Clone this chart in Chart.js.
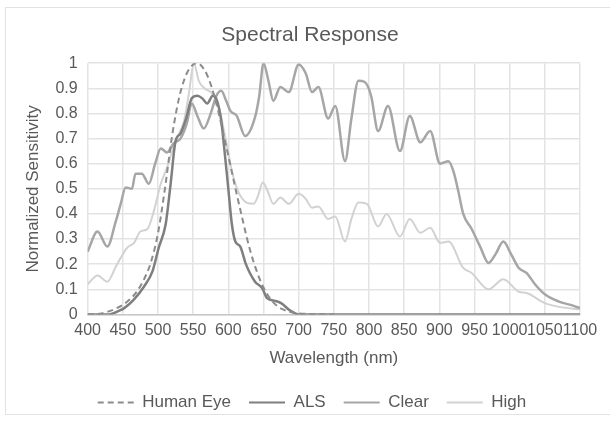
<!DOCTYPE html>
<html>
<head>
<meta charset="utf-8">
<script src="https://cdn.jsdelivr.net/npm/chart.js@4"></script>
<style>
html,body{margin:0;padding:0;background:#fff;overflow:hidden;}
#wrap{position:relative;width:610px;height:421px;}
#frame{position:absolute;left:5px;top:7px;width:620px;height:408px;border:1px solid #e2e2e2;box-sizing:border-box;}
canvas{position:absolute;left:0;top:0;}
</style>
</head>
<body>
<div id="wrap"><div id="frame"></div><canvas id="c" width="610" height="421"></canvas></div>
<script>
// ---- data ----
const seriesNames = ['Human Eye', 'ALS', 'Clear', 'High'];
const xTicks = ['400','450','500','550','600','650','700','750','800','850','900','950','1000','1050','1100'];
const yTicks = ['0','0.1','0.2','0.3','0.4','0.5','0.6','0.7','0.8','0.9','1'];

const eyeX = [400,410,420,430,440,450,460,470,480,490,500,510,520,530,540,550,555,560,570,580,590,600,610,620,630,640,650,660,670,680,690,700,720,750];
const eyeY = [0,0.001,0.004,0.012,0.023,0.038,0.06,0.091,0.139,0.208,0.323,0.503,0.71,0.862,0.954,0.995,1.0,0.995,0.952,0.87,0.757,0.631,0.503,0.381,0.265,0.175,0.107,0.061,0.032,0.017,0.008,0.004,0.001,0];

const alsX = [400,430,445,452,466,480,492,501,511,518,525,532,540,548,556,563,570,578,584,590,595,600,605,610,617,625,638,648,655,665,675,688,700,800,900,1000,1100];
const alsY = [0,0,0.015,0.025,0.06,0.11,0.17,0.265,0.36,0.52,0.69,0.72,0.78,0.86,0.87,0.86,0.84,0.87,0.85,0.77,0.64,0.5,0.36,0.29,0.27,0.2,0.13,0.105,0.065,0.055,0.045,0.015,0,0,0,0,0];

const clearX = [400,414,428,440,447,454,463,468,477,487,496,504,513,522,532,541,548,556,565,575,583,590,597,603,612,624,638,644,650,657,664,674,686,700,710,719,728,742,752,766,775,785,794,803,813,827,844,858,873,887,901,913,920,927,934,946,958,970,980,991,1002,1013,1024,1036,1050,1071,1090,1100];
const clearY = [0.25,0.33,0.27,0.37,0.44,0.505,0.5,0.56,0.56,0.52,0.6,0.66,0.645,0.68,0.7,0.76,0.84,0.79,0.74,0.8,0.87,0.89,0.85,0.81,0.79,0.71,0.785,0.87,1.0,0.93,0.85,0.905,0.885,0.995,0.96,0.885,0.905,0.78,0.83,0.61,0.78,0.93,0.925,0.87,0.73,0.83,0.65,0.79,0.685,0.73,0.6,0.61,0.57,0.49,0.4,0.34,0.27,0.205,0.24,0.29,0.24,0.185,0.165,0.12,0.08,0.05,0.035,0.025];

const highX = [400,414,428,440,447,456,466,475,485,494,504,513,522,530,537,544,551,558,566,577,587,596,606,614,626,636,642,649,656,664,674,686,700,710,719,728,742,752,766,775,785,797,813,825,844,858,873,887,901,913,934,946,970,991,1013,1024,1050,1071,1100];
const highY = [0.12,0.155,0.13,0.19,0.225,0.265,0.285,0.33,0.34,0.41,0.52,0.585,0.665,0.72,0.77,0.88,1.0,0.93,0.9,0.88,0.82,0.7,0.56,0.49,0.445,0.44,0.47,0.525,0.49,0.44,0.465,0.44,0.48,0.46,0.425,0.43,0.38,0.39,0.29,0.38,0.445,0.44,0.35,0.4,0.31,0.38,0.325,0.345,0.285,0.29,0.185,0.165,0.1,0.14,0.09,0.085,0.045,0.03,0.02];

function pts(xs, ys){ return xs.map((x,i)=>({x:x, y:ys[i]})); }

const txt = '#595959';
const font = 'Liberation Sans, Arial, sans-serif';

// the original chart frame is wider than the visible crop: centre title and legend on it
const shiftBlocks = {
  id: 'shiftBlocks',
  afterLayout(chart) {
    if (chart.titleBlock) { chart.titleBlock.left += 17; }
    if (chart.legend) { chart.legend.left += 21; }
  }
};

new Chart(document.getElementById('c'), {
  type: 'line',
  data: {
    datasets: [
      {label: seriesNames[0], data: pts(eyeX, eyeY), borderColor: '#8c8c8c', backgroundColor: '#8c8c8c', borderWidth: 2, borderDash: [6,4]},
      {label: seriesNames[1], data: pts(alsX, alsY), borderColor: '#7f7f7f', backgroundColor: '#7f7f7f', borderWidth: 2.5},
      {label: seriesNames[2], data: pts(clearX, clearY), borderColor: '#a6a6a6', backgroundColor: '#a6a6a6', borderWidth: 2.5},
      {label: seriesNames[3], data: pts(highX, highY), borderColor: '#d2d2d2', backgroundColor: '#d2d2d2', borderWidth: 2}
    ]
  },
  plugins: [shiftBlocks],
  options: {
    responsive: false,
    animation: false,
    devicePixelRatio: 1,
    elements: { point: { radius: 0 }, line: { cubicInterpolationMode: 'monotone', fill: false } },
    layout: { padding: { left: 23, right: 30, top: 20, bottom: 0 } },
    plugins: {
      title: { display: true, text: 'Spectral Response', color: txt, font: { family: font, size: 21, weight: 'normal' }, padding: { top: 3, bottom: 15 } },
      legend: {
        position: 'bottom',
        labels: { color: txt, font: { family: font, size: 17 }, usePointStyle: true, pointStyle: 'line', pointStyleWidth: 36, padding: 18,
          generateLabels: (chart) => {
            const items = Chart.defaults.plugins.legend.labels.generateLabels(chart);
            items.forEach((it) => { const ds = chart.data.datasets[it.datasetIndex]; it.lineDash = ds.borderDash || []; it.lineWidth = 2; });
            return items;
          } }
      },
      tooltip: { enabled: false }
    },
    scales: {
      x: {
        type: 'linear', min: 400, max: 1100,
        ticks: { stepSize: 50, autoSkip: false, maxRotation: 0, minRotation: 0, color: txt, font: { family: font, size: 16 }, padding: 7,
          callback: (v) => { const i = Math.round((v - 400) / 50); return xTicks[i]; } },
        grid: { color: '#e3e3e3', lineWidth: 1.5, drawTicks: false },
        border: { color: '#c8c8c8', width: 1.5 },
        title: { display: true, text: 'Wavelength (nm)', color: txt, font: { family: font, size: 17 }, padding: { top: 1, bottom: 7 } }
      },
      y: {
        min: 0, max: 1,
        ticks: { stepSize: 0.1, color: txt, font: { family: font, size: 16 }, padding: 10,
          callback: (v) => yTicks[Math.round(v * 10)] },
        grid: { color: '#e3e3e3', lineWidth: 1.5, drawTicks: false },
        border: { display: false },
        title: { display: true, text: 'Normalized Sensitivity', color: txt, font: { family: font, size: 17 }, padding: { top: 0, bottom: 2 } }
      }
    }
  }
});
</script>
</body>
</html>
